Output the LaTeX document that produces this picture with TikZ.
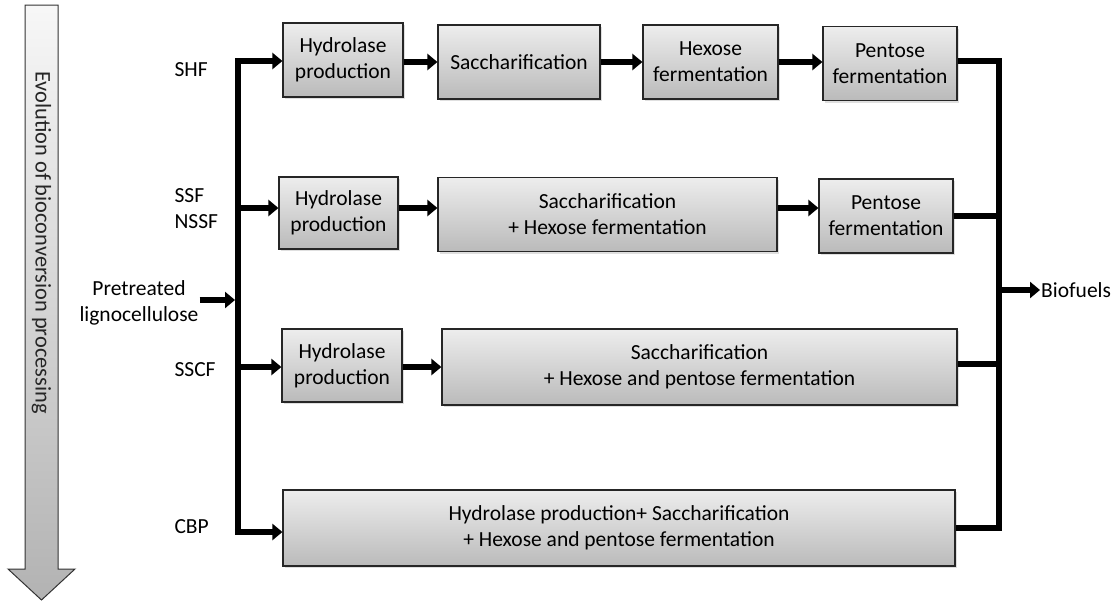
\documentclass[tikz,border=0pt]{standalone}
\usepackage{fontspec}
\setmainfont{Carlito}
\usetikzlibrary{arrows.meta,positioning,shadows}

\begin{document}
\begin{tikzpicture}[x=1pt,y=-1pt,
    every node/.style={font=\fontsize{21.5}{26}\selectfont},
    box/.style={draw=black!85,line width=1.2pt,top color=black!7,bottom color=black!27,
                align=center,inner sep=2pt,minimum height=74pt,
                drop shadow={shadow xshift=2pt,shadow yshift=-2pt,opacity=0.25}},
    lbl/.style={anchor=west,align=left},
    flow/.style={line width=6.5pt,-{Triangle[length=10pt,width=16pt]}},
    bar/.style={line width=6.5pt}]
\useasboundingbox (0,0) rectangle (1120,605);

% evolution arrow
\path[draw=black!80,line width=1pt,top color=black!3,bottom color=black!30]
  (25,5) -- (58,5) -- (58,569) -- (75,569) -- (41.5,600) -- (8,569) -- (25,569) -- cycle;
\node[rotate=-90,font=\fontsize{22.4}{26}\selectfont,text=black!85] (evo) at (41.5,242.5) {Evolution of bioconversion processing};

% process labels
\node[lbl] (shf) at (171,70) {SHF};
\node[lbl] (ssf) at (171,209) {SSF\\NSSF};
\node[lbl] (sscf) at (171,370) {SSCF};
\node[lbl] (cbp) at (171,527) {CBP};
\node[align=center,inner sep=1pt] (pre) at (139,303) {Pretreated\\lignocellulose};

% SHF
\node[box,minimum width=120pt] (h1) at (343,60) {Hydrolase\\production};
\node[box,minimum width=162pt] (s1) at (519,62) {Saccharification};
\node[box,minimum width=135pt] (x1) at (710.5,62) {Hexose\\fermentation};
\node[box,minimum width=134pt] (p1) at (890,63.5) {Pentose\\fermentation};

% SSF / NSSF
\node[box,minimum width=119pt,minimum height=72pt] (h2) at (338.5,213) {Hydrolase\\production};
\node[box,minimum width=339pt] (s2) at (607.5,214.5) {Saccharification\\+ Hexose fermentation};
\node[box,minimum width=134pt] (p2) at (886,216) {Pentose\\fermentation};

% SSCF
\node[box,minimum width=120pt,minimum height=73pt] (h3) at (342,365.5) {Hydrolase\\production};
\node[box,minimum width=515pt,minimum height=76pt] (s3) at (699.5,367) {Saccharification\\+ Hexose and pentose fermentation};

% CBP
\node[box,minimum width=672pt,minimum height=76pt] (c4) at (619,528) {Hydrolase production+ Saccharification\\+ Hexose and pentose fermentation};

\node[anchor=west,inner sep=1pt] (bio) at (1040,290) {Biofuels};

% trunk
\coordinate (ttop) at (238,61);
\coordinate (tbot) at (238,532);
\coordinate (t2) at (238,208);
\coordinate (t3) at (238,367);
\coordinate (tin) at (235,300);
\coordinate (col) at (999,290);

\draw[flow] (pre.east |- tin) -- (tin);
\draw[flow] (tbot) -- (ttop) -- (ttop -| h1.west);
\draw[flow] (tbot -| 234.75,0) -- (tbot -| c4.west);
\draw[flow] (t2) -- (t2 -| h2.west);
\draw[flow] (t3) -- (t3 -| h3.west);

% steps
\draw[flow] (h1.east |- s1) -- (s1);
\draw[flow] (s1.east |- x1) -- (x1);
\draw[flow] (x1) -- (x1 -| p1.west);
\draw[flow] (h2.east |- t2) -- (t2 -| s2.west);
\draw[flow] (s2.east |- t2) -- (t2 -| p2.west);
\draw[flow] (h3.east |- t3) -- (t3 -| s3.west);

% collector
\draw[bar] (p1.east |- ttop) -| (col) |- (c4.east);
\draw[bar] (p2.east) -- (p2.east -| col);
\draw[bar] (s3.east |- 0,364) -- (col |- 0,364);
\draw[flow] (col) -- (bio.west);
\end{tikzpicture}
\end{document}
